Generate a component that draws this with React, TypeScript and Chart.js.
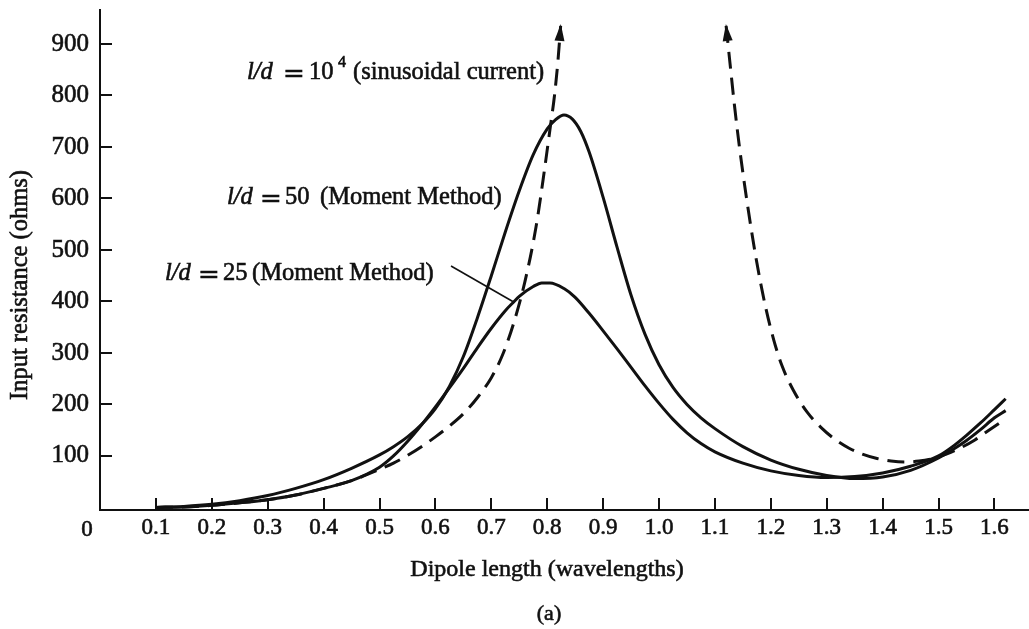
import React, { useEffect, useRef } from "react";
import { Chart, registerables } from "chart.js";

Chart.register(...registerables);

// ---- tick labels ----
const xTickValues = [0.1, 0.2, 0.3, 0.4, 0.5, 0.6, 0.7, 0.8, 0.9, 1.0, 1.1, 1.2, 1.3, 1.4, 1.5, 1.6];
const yTickValues = [100, 200, 300, 400, 500, 600, 700, 800, 900];

// ---- l/d = 50 (Moment Method) ----
const ld50X = [0.1, 0.15, 0.2, 0.25, 0.3, 0.35, 0.4, 0.45, 0.5, 0.525, 0.55, 0.575, 0.6, 0.625, 0.65, 0.675, 0.7, 0.725, 0.75, 0.775, 0.8, 0.815, 0.83, 0.845, 0.86, 0.875, 0.9, 0.925, 0.95, 0.975, 1.0, 1.025, 1.05, 1.075, 1.1, 1.15, 1.2, 1.25, 1.3, 1.35, 1.4, 1.45, 1.5, 1.525, 1.55, 1.575, 1.6, 1.62];
const ld50Y = [0, 2, 6, 13, 23, 37, 54, 76, 102, 118, 137, 161, 192, 235, 293, 368, 450, 535, 615, 685, 735, 753, 762, 754, 730, 690, 602, 505, 412, 336, 277, 233, 200, 174, 153, 118, 92, 74, 62, 56, 59, 72, 96, 112, 130, 151, 174, 188];

// ---- l/d = 25 (Moment Method) ----
const ld25X = [0.1, 0.15, 0.2, 0.25, 0.3, 0.35, 0.4, 0.45, 0.5, 0.525, 0.55, 0.575, 0.6, 0.625, 0.65, 0.675, 0.7, 0.725, 0.74, 0.75, 0.775, 0.79, 0.805, 0.83, 0.85, 0.875, 0.9, 0.925, 0.95, 0.975, 1.0, 1.025, 1.05, 1.075, 1.1, 1.15, 1.2, 1.25, 1.3, 1.35, 1.4, 1.45, 1.5, 1.525, 1.55, 1.575, 1.6, 1.62];
const ld25Y = [0, 1, 4, 9, 15, 24, 37, 52, 78, 100, 128, 160, 195, 232, 270, 310, 348, 382, 399, 410, 429, 436, 436, 425, 408, 377, 343, 308, 272, 236, 202, 171, 145, 124, 108, 86, 71, 62, 58, 60, 67, 80, 100, 118, 140, 164, 190, 211];

// ---- l/d = 10^4 (sinusoidal current), branch below the first resonance ----
const sinLowX = [0.1, 0.15, 0.2, 0.25, 0.3, 0.35, 0.4, 0.45, 0.5, 0.525, 0.55, 0.575, 0.6, 0.625, 0.65, 0.675, 0.7, 0.72, 0.74, 0.76, 0.78, 0.795, 0.805, 0.813, 0.819, 0.824];
const sinLowY = [0, 1, 4, 9, 15, 24, 37, 52, 74, 86, 101, 118, 137, 158, 182, 213, 252, 296, 358, 438, 545, 655, 735, 800, 865, 935];

// ---- l/d = 10^4 (sinusoidal current), branch above the resonance ----
const sinHighX = [1.12, 1.127, 1.135, 1.145, 1.16, 1.175, 1.19, 1.205, 1.22, 1.24, 1.265, 1.29, 1.315, 1.34, 1.365, 1.39, 1.415, 1.44, 1.465, 1.49, 1.515, 1.54, 1.565, 1.59, 1.62];
const sinHighY = [935, 862, 780, 690, 575, 475, 392, 326, 275, 228, 185, 155, 132, 115, 103, 95, 90, 88, 90, 95, 104, 116, 131, 150, 172];

const SERIF = "'Liberation Serif', 'Times New Roman', serif";
const INK = "#111";

function pts(xs: number[], ys: number[]) {
  return xs.map((x, i) => ({ x, y: ys[i] }));
}

function inkText(ctx: CanvasRenderingContext2D, t: string, x: number, y: number) {
  ctx.fillText(t, x, y);
  ctx.strokeText(t, x, y);
}

type Piece = { t: string; x: number; italic?: boolean; size?: number; dy?: number; family?: string };

function drawPieces(ctx: CanvasRenderingContext2D, pieces: Piece[], baseline: number) {
  ctx.textAlign = "left";
  ctx.textBaseline = "alphabetic";
  for (const p of pieces) {
    const size = p.size ?? 24.5;
    const fam = p.family ?? SERIF;
    ctx.font = `${p.italic ? "italic " : ""}${size}px ${fam}`;
    inkText(ctx, p.t, p.x, baseline + (p.dy ?? 0));
  }
}

const EQ = { family: "'DejaVu Serif', serif", size: 26, dy: 3 };

const annotationPlugin = {
  id: "annotations",
  afterDraw(chart: any) {
    const { ctx, chartArea, scales } = chart;
    const xs = scales.x;
    const ys = scales.y;
    ctx.save();
    ctx.fillStyle = INK;
    ctx.strokeStyle = INK;

    // inward tick marks
    ctx.lineWidth = 2;
    for (const v of xTickValues) {
      const px = Math.round(xs.getPixelForValue(v));
      ctx.beginPath();
      ctx.moveTo(px, chartArea.bottom);
      ctx.lineTo(px, chartArea.bottom - 12);
      ctx.stroke();
    }
    for (const v of yTickValues) {
      const py = Math.round(ys.getPixelForValue(v));
      ctx.beginPath();
      ctx.moveTo(chartArea.left, py);
      ctx.lineTo(chartArea.left + 12, py);
      ctx.stroke();
    }

    // arrowheads on the sinusoidal-current curve
    const arrow = (tip: { x: number; y: number }, from: { x: number; y: number }) => {
      const tx = xs.getPixelForValue(tip.x);
      const ty = ys.getPixelForValue(tip.y);
      const fx = xs.getPixelForValue(from.x);
      const fy = ys.getPixelForValue(from.y);
      const a = Math.atan2(ty - fy, tx - fx);
      const len = 15;
      const w = 5;
      const bx = tx - len * Math.cos(a);
      const by = ty - len * Math.sin(a);
      ctx.beginPath();
      ctx.moveTo(tx + 2 * Math.cos(a), ty + 2 * Math.sin(a));
      ctx.lineTo(bx + w * Math.sin(a), by - w * Math.cos(a));
      ctx.lineTo(bx - w * Math.sin(a), by + w * Math.cos(a));
      ctx.closePath();
      ctx.fill();
    };
    const n = sinLowX.length;
    arrow({ x: sinLowX[n - 1], y: sinLowY[n - 1] }, { x: sinLowX[n - 2], y: sinLowY[n - 2] });
    arrow({ x: sinHighX[0], y: sinHighY[0] }, { x: sinHighX[1], y: sinHighY[1] });

    ctx.lineWidth = 0.6;

    // tick labels
    ctx.font = `23px ${SERIF}`;
    ctx.textAlign = "center";
    ctx.textBaseline = "middle";
    const labelY = chartArea.bottom + 18;
    for (const v of xTickValues) {
      inkText(ctx, v.toFixed(1), xs.getPixelForValue(v), labelY);
    }
    inkText(ctx, "0", xs.getPixelForValue(0) - 13, labelY + 2);
    ctx.font = `25px ${SERIF}`;
    ctx.textAlign = "right";
    for (const v of yTickValues) {
      inkText(ctx, String(v), chartArea.left - 11, ys.getPixelForValue(v));
    }

    // curve labels
    drawPieces(ctx, [
      { t: "l/d", x: 247, italic: true },
      { t: "=", x: 283, ...EQ },
      { t: "10", x: 309 },
      { t: "4", x: 338, size: 16, dy: -12 },
      { t: "(sinusoidal current)", x: 353 },
    ], 79);
    drawPieces(ctx, [
      { t: "l/d", x: 227, italic: true },
      { t: "=", x: 260, ...EQ },
      { t: "50", x: 285 },
      { t: "(Moment Method)", x: 320 },
    ], 204);
    drawPieces(ctx, [
      { t: "l/d", x: 165, italic: true },
      { t: "=", x: 198, ...EQ },
      { t: "25", x: 223 },
      { t: "(Moment Method)", x: 252 },
    ], 280);

    // leader line to the l/d = 25 curve
    let k = 0;
    for (let i = 0; i < ld25X.length; i++) {
      if (Math.abs(ld25X[i] - 0.74) < Math.abs(ld25X[k] - 0.74)) k = i;
    }
    ctx.lineWidth = 1.6;
    ctx.beginPath();
    ctx.moveTo(451, 266);
    ctx.lineTo(xs.getPixelForValue(ld25X[k]), ys.getPixelForValue(ld25Y[k]));
    ctx.stroke();

    // axis titles
    ctx.lineWidth = 0.6;
    ctx.font = `24px ${SERIF}`;
    ctx.textAlign = "center";
    ctx.textBaseline = "alphabetic";
    inkText(ctx, "Dipole length (wavelengths)", 547, 576);
    ctx.font = `22px ${SERIF}`;
    inkText(ctx, "(a)", 549, 620);

    ctx.save();
    ctx.translate(21, 285);
    ctx.rotate(-Math.PI / 2);
    ctx.font = `24.5px ${SERIF}`;
    ctx.textAlign = "center";
    ctx.textBaseline = "middle";
    inkText(ctx, "Input resistance (ohms)", 0, 0);
    ctx.restore();

    ctx.restore();
  },
};

export default function App() {
  const ref = useRef<HTMLCanvasElement | null>(null);

  useEffect(() => {
    if (!ref.current) return;
    const line = (data: any, dashed: boolean) => ({
      data,
      borderColor: INK,
      borderWidth: 3,
      borderDash: dashed ? [17, 9] : [],
      pointRadius: 0,
      fill: false,
      cubicInterpolationMode: "monotone" as const,
    });
    const chart = new Chart(ref.current, {
      type: "line",
      data: {
        datasets: [
          { label: "l/d = 50 (Moment Method)", ...line(pts(ld50X, ld50Y), false) },
          { label: "l/d = 25 (Moment Method)", ...line(pts(ld25X, ld25Y), false) },
          { label: "l/d = 10^4 (sinusoidal current)", ...line(pts(sinLowX, sinLowY), true) },
          { label: "l/d = 10^4 (sinusoidal current) ", ...line(pts(sinHighX, sinHighY), true) },
        ],
      },
      options: {
        animation: false,
        responsive: false,
        devicePixelRatio: 1,
        events: [],
        layout: { padding: { top: 10, right: 1, left: 0, bottom: 0 } },
        plugins: {
          legend: { display: false },
          tooltip: { enabled: false },
        },
        scales: {
          x: {
            type: "linear",
            min: 0,
            max: 1.66,
            grid: { display: false, drawTicks: false },
            border: { display: true, color: INK, width: 2 },
            ticks: { display: false },
            afterBuildTicks: (s: any) => {
              s.ticks = xTickValues.map((v) => ({ value: v }));
            },
            afterFit: (s: any) => {
              s.height = 119;
            },
          },
          y: {
            type: "linear",
            min: -5,
            max: 966,
            grid: { display: false, drawTicks: false },
            border: { display: true, color: INK, width: 2 },
            ticks: { display: false },
            afterBuildTicks: (s: any) => {
              s.ticks = yTickValues.map((v) => ({ value: v }));
            },
            afterFit: (s: any) => {
              s.width = 100;
            },
          },
        },
      },
      plugins: [annotationPlugin],
    });
    return () => chart.destroy();
  }, []);

  return (
    <div style={{ position: "absolute", left: 0, top: 0, width: 1029, height: 629, overflow: "hidden", background: "#fff" }}>
      <canvas ref={ref} width={1029} height={629} style={{ display: "block", width: 1029, height: 629 }} />
    </div>
  );
}
